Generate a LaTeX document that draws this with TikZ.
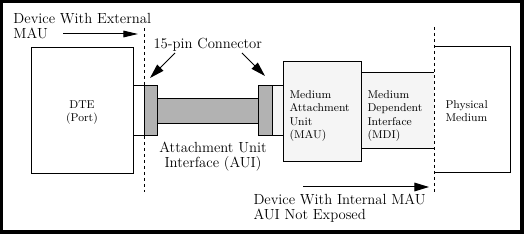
\documentclass[tikz,border=0pt]{standalone}
\usetikzlibrary{arrows.meta}
\begin{document}
\begin{tikzpicture}[x=.75pt,y=-.75pt,line width=.75pt,
  big/.style={font=\fontsize{11}{11}\selectfont,inner sep=0,align=left},
  small/.style={font=\fontsize{8.5}{10}\selectfont,inner sep=0,align=left},
  plug/.style={draw,fill=gray!60},
  cut/.style={dash pattern=on 2.5pt off 2pt},
  arr/.style={-{Triangle[length=11pt,width=5pt]}},
  arrw/.style={-{Triangle[length=11pt,width=6.5pt]}}]
\useasboundingbox(0,0)rectangle(524,234);
\fill(0,0)rectangle(524,234);\fill[white](3,3)rectangle(520,230);
\draw(31,48)rectangle(133,174);\draw(144,86)--(133,86)--(133,136)--(144,136);
\draw[plug](144,86)rectangle(157,136);\draw[plug](157,99)rectangle(258,124);\draw[plug](258,86)rectangle(272,136);
\draw[fill=gray!8](272,86)rectangle(283,136);\draw[fill=gray!8](283,62)rectangle(361,162);
\fill[gray!8](361,73)rectangle(434,149);\draw(434,73)--(361,73)--(361,149)--(434,149);
\draw(434,47)--(510,47)--(510,173)--(434,173);
\draw[cut](144,28)--(144,192);\draw[cut](434,27)--(434,192);
\node[big,anchor=north west](ext)at(13,13){Device With External\\MAU};
\node[big,anchor=north west](conn)at(153,38){15-pin Connector};
\node[big,anchor=north,align=center](aui)at(213,142){Attachment Unit\\Interface (AUI)};
\node[big,anchor=north west](int)at(253,194){Device With Internal MAU\\AUI Not Exposed};
\node[small,anchor=north,align=center](dte)at(82,100){DTE\\(Port)};
\node[small,anchor=north west](mau)at(289,90){Medium\\Attachment\\Unit\\(MAU)};
\node[small,anchor=north west](mdi)at(367,90){Medium\\Dependent\\Interface\\(MDI)};
\node[small,anchor=north west](phy)at(445,100){Physical\\Medium};
\coordinate(e1)at(63,34);\coordinate(e2)at(138,34);
\coordinate(c1)at(175,53);\coordinate(c2)at(150,78);\coordinate(c3)at(242,53);\coordinate(c4)at(265,76);
\coordinate(i1)at(303,187);\coordinate(i2)at(429,187);
\draw[arr](e1)--(e2);\draw[arrw](c1)--(c2);\draw[arrw](c3)--(c4);\draw[arrw](i1)--(i2);
\end{tikzpicture}
\end{document}
